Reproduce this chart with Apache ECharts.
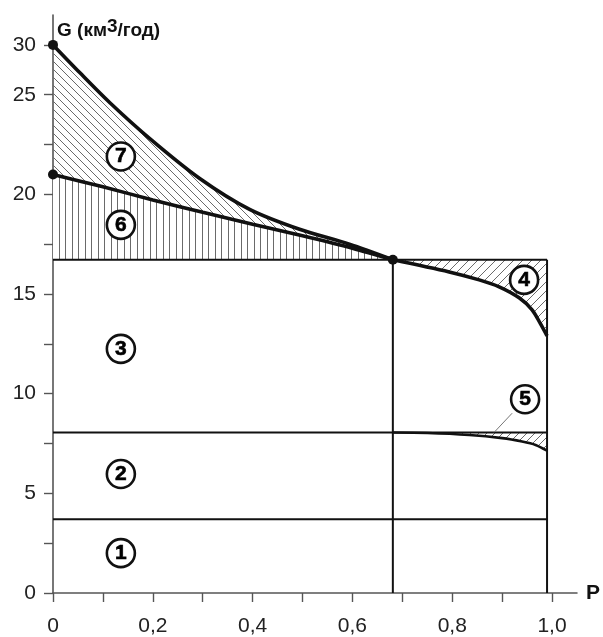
<!DOCTYPE html>
<html><head><meta charset="utf-8">
<script src="https://cdn.jsdelivr.net/npm/echarts@6/dist/echarts.min.js"></script>
<style>html,body{margin:0;padding:0;background:#fff}#c{width:603px;height:637px}</style>
</head><body><div id="c"></div>
<script>
// ---- data (G in км³/год, P probability) ----
const xTicks = [0,0.1,0.2,0.3,0.4,0.5,0.6,0.7,0.8,0.9,1.0];
const xLabelVals = [0,0.2,0.4,0.6,0.8,1.0];
const xLabelText = ['0','0,2','0,4','0,6','0,8','1,0'];
const yTickG = [0,2.5,5,7.5,10,12.5,15,17.5,20,22.5,25,30];
const yLabelG = [0,5,10,15,20,25,30];
const yLabelText = ['0','5','10','15','20','25','30'];

const pSplit = 0.681;
const pEnd = 0.99;
const levels = [3.7, 8.05, 16.72];

const upperP = [0, 0.054, 0.114, 0.194, 0.294, 0.394, 0.494, 0.594, 0.681];
const upperG = [30, 27.2, 24.6, 22.8, 20.8, 19.25, 18.25, 17.5, 16.72];
const lowerP = [0, 0.1, 0.2, 0.3, 0.4, 0.5, 0.6, 0.681];
const lowerG = [21.0, 20.38, 19.72, 19.1, 18.5, 17.92, 17.3, 16.72];
const curve4P = [0.681, 0.794, 0.854, 0.894, 0.934, 0.96, 0.977, 0.99];
const curve4G = [16.72, 16.11, 15.71, 15.36, 14.81, 14.21, 13.5, 12.9];
const curve5P = [0.681, 0.75, 0.834, 0.9, 0.94, 0.967, 0.99];
const curve5G = [8.05, 8.03, 7.93, 7.77, 7.6, 7.43, 7.14];

const dotP = [0, 0, 0.681];
const dotG = [30, 21.0, 16.72];

const markText = ['1','2','3','6','7','4','5'];
const markP = [0.136, 0.136, 0.136, 0.136, 0.136, 0.944, 0.946];
const markG = [2.0, 5.97, 12.25, 18.47, 21.9, 15.71, 9.72];
const leaderP = [0.92, 0.884];
const leaderG = [9.02, 8.06];

// ---- broken axis: above 25 the scale is halved ----
function t(G){ return G <= 25 ? G : 25 + (G - 25) / 2; }
function pts(P, G){ return P.map((p,i)=>[p, t(G[i])]); }

function hatch(kind, size, color, bg){
  const c = document.createElement('canvas');
  c.width = size; c.height = size;
  const g = c.getContext('2d');
  if (bg){ g.fillStyle = bg; g.fillRect(0,0,size,size); }
  g.strokeStyle = color; g.fillStyle = color; g.lineWidth = 1;
  if (kind === 'v'){
    g.fillRect(0,0,1,size); g.fillRect(Math.round(size/2),0,1,size);
  } else {
    g.beginPath();
    for (let k=-1;k<=1;k++){
      if (kind === 'b'){ g.moveTo(0,k*size); g.lineTo(size,size+k*size); }
      else { g.moveTo(0,size+k*size); g.lineTo(size,k*size); }
    }
    g.stroke();
  }
  return {image:c, repeat:'repeat'};
}

const hatchColor = '#6a6a6a';
const chart = echarts.init(document.getElementById('c'), null, {renderer:'canvas'});
const font = "'Liberation Sans', Arial, sans-serif";
const ink = '#111';
const SM = 0.3;

function seg(data, w, color, z){
  return {type:'line', data, symbol:'none', silent:true, z:z||3,
    lineStyle:{color:color||ink, width:w}, animation:false};
}

const series = [];
// hatched areas
series.push({type:'line', data:pts(upperP,upperG), smooth:SM, symbol:'none', z:1,
  lineStyle:{width:0}, areaStyle:{origin:t(levels[2]), color:hatch('b',8,hatchColor,null), opacity:1}});
series.push({type:'line', data:pts(lowerP,lowerG), smooth:SM, symbol:'none', z:2,
  lineStyle:{width:0}, areaStyle:{origin:t(levels[2]), color:hatch('v',13,hatchColor,'#ffffff'), opacity:1}});
series.push({type:'line', data:pts(curve4P,curve4G), smooth:SM, symbol:'none', z:1,
  lineStyle:{width:0}, areaStyle:{origin:t(levels[2]), color:hatch('f',9,hatchColor,null), opacity:1}});
series.push({type:'line', data:pts(curve5P,curve5G), smooth:SM, symbol:'none', z:1,
  lineStyle:{width:0}, areaStyle:{origin:t(levels[1]), color:hatch('f',8,hatchColor,null), opacity:1}});
// straight frame lines
levels.forEach(L => series.push(seg([[0,t(L)],[pEnd,t(L)]], 2, ink, 3)));
series.push(seg([[pSplit,0],[pSplit,t(levels[2])]], 2, ink, 3));
series.push(seg([[pEnd,0],[pEnd,t(levels[2])]], 2, ink, 3));
// curves
[[upperP,upperG,3.6],[lowerP,lowerG,3.6],[curve4P,curve4G,3.6],[curve5P,curve5G,2.6]].forEach(c=>{
  series.push({type:'line', data:pts(c[0],c[1]), smooth:SM, symbol:'none', z:4,
    lineStyle:{color:ink, width:c[2]}, animation:false});
});
// leader line for 5
series.push(seg(pts(leaderP,leaderG), 1, '#777', 4));
// dots
series.push({type:'scatter', data:pts(dotP,dotG), symbol:'circle', symbolSize:10, z:5,
  itemStyle:{color:ink, opacity:1}});
// circled numbers
series.push({type:'scatter', z:6, symbol:'circle', symbolSize:28,
  data: markP.map((p,i)=>({value:[p,t(markG[i])], name:markText[i]})),
  itemStyle:{color:'#fff', borderColor:ink, borderWidth:2.6, opacity:1},
  label:{show:true, position:'inside', formatter:p=>p.name, fontSize:21, fontWeight:'bold',
    color:'#000', fontFamily:font, textBorderColor:'#000', textBorderWidth:0.6}});

const yTickT = yTickG.map(t), yLabelT = yLabelG.map(t);

chart.setOption({
  animation:false,
  backgroundColor:'#fff',
  grid:{left:53, right:25, top:15, bottom:44, containLabel:false},
  xAxis:{type:'value', min:0, max:1.05,
    name:'P', nameLocation:'end', nameGap:9,
    nameTextStyle:{fontSize:21, fontWeight:'bold', color:ink, fontFamily:font, align:'left', verticalAlign:'middle'},
    splitLine:{show:false},
    axisLine:{lineStyle:{color:'#555', width:1.6}},
    axisTick:{show:true, length:9, customValues:xTicks, lineStyle:{color:'#555', width:1.4}},
    axisLabel:{customValues:xLabelVals, margin:23, fontSize:21, color:'#222', fontFamily:font,
      formatter:v=>{const i=xLabelVals.findIndex(x=>Math.abs(x-v)<1e-6); return i<0?'':xLabelText[i];}}
  },
  yAxis:{type:'value', min:0, max:29,
    name:'{a|G (км}{s|3}{a|/год)}', nameLocation:'end', nameGap:-16,
    nameTextStyle:{fontSize:19, fontWeight:'bold', color:ink, fontFamily:font, align:'left', verticalAlign:'middle', padding:[0,0,0,4],
      rich:{a:{fontSize:19, fontWeight:'bold', color:ink, fontFamily:font},
            s:{fontSize:19, fontWeight:'bold', color:ink, fontFamily:font, padding:[0,0,9,0]}}},
    splitLine:{show:false},
    axisLine:{lineStyle:{color:'#555', width:1.6}},
    axisTick:{show:true, length:9, customValues:yTickT, lineStyle:{color:'#555', width:1.4}},
    axisLabel:{customValues:yLabelT, margin:17, fontSize:21, color:'#222', fontFamily:font,
      formatter:v=>{const i=yLabelT.findIndex(x=>Math.abs(x-v)<1e-6); return i<0?'':yLabelText[i];}}
  },
  series
});
</script></body></html>
